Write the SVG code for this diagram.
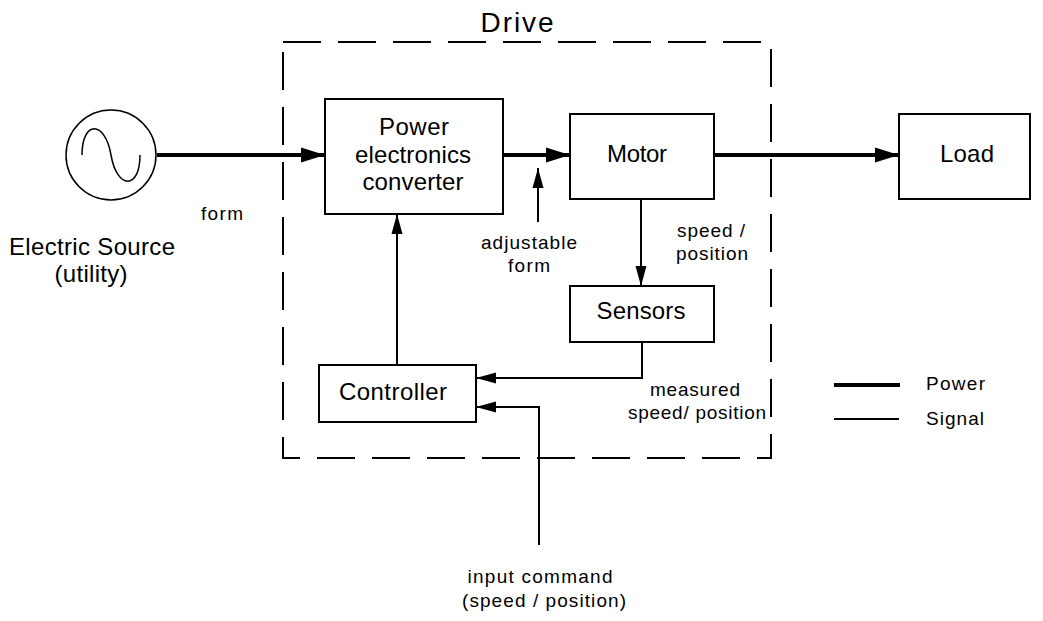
<svg xmlns="http://www.w3.org/2000/svg" width="1043" height="621" viewBox="0 0 1043 621">
<style>
text{font-family:"Liberation Sans",Arial,sans-serif;fill:#000;text-anchor:middle}
.box{fill:#fff;stroke:#000;stroke-width:2}
.pw{stroke:#000;stroke-width:4;fill:none}
.sg{stroke:#000;stroke-width:2;fill:none}
.big{font-size:24px}
.sm{font-size:19px}
</style>
<defs>
<marker id="ap" markerUnits="userSpaceOnUse" markerWidth="26" markerHeight="18" refX="24" refY="9" orient="auto"><path d="M0,1.5 L24,9 L0,16.5 Z" fill="#000"/></marker>
<marker id="as" markerUnits="userSpaceOnUse" markerWidth="22" markerHeight="14" refX="20" refY="7" orient="auto"><path d="M0,1.5 L20,7 L0,12.5 Z" fill="#000"/></marker>
</defs>
<g id="drive">
<path d="M283,42 H771 V458 H283 Z" fill="none" stroke="#000" stroke-width="2" stroke-dasharray="38 17"/>
<text x="517" y="32" style="font-size:28px" textLength="73">Drive</text>
</g>
<g id="source">
<circle cx="111" cy="155" r="45" fill="#fff" stroke="#000" stroke-width="1.5"/>
<path d="M82,155 C82,120 105,120 111,155 C117,190 140,190 140,155" fill="none" stroke="#000" stroke-width="1.5"/>
<text class="big" x="92" y="255" textLength="166">Electric Source</text>
<text class="big" x="91" y="282" textLength="73">(utility)</text>
</g>
<g id="converter">
<rect class="box" x="325" y="99" width="178" height="115"/>
<text class="big" x="414" y="135" textLength="70">Power</text>
<text class="big" x="413" y="163" textLength="116">electronics</text>
<text class="big" x="413" y="190" textLength="101">converter</text>
</g>
<g id="motor">
<rect class="box" x="570" y="114" width="144" height="85"/>
<text class="big" x="637" y="162" textLength="60">Motor</text>
</g>
<g id="load">
<rect class="box" x="899" y="114" width="131" height="85"/>
<text class="big" x="967" y="162" textLength="54">Load</text>
</g>
<g id="sensors">
<rect class="box" x="570" y="286" width="144" height="56"/>
<text class="big" x="641" y="319" textLength="89">Sensors</text>
</g>
<g id="controller">
<rect class="box" x="319" y="365" width="157" height="57"/>
<text class="big" x="393" y="400" textLength="108">Controller</text>
</g>
<g id="connectors">
<line class="pw" x1="157" y1="155" x2="325" y2="155" marker-end="url(#ap)"/>
<line class="pw" x1="503" y1="155" x2="570" y2="155" marker-end="url(#ap)"/>
<line class="pw" x1="714" y1="155" x2="899" y2="155" marker-end="url(#ap)"/>
<line class="sg" x1="538" y1="222" x2="538" y2="168" marker-end="url(#as)"/>
<line class="sg" x1="641" y1="199" x2="641" y2="286" marker-end="url(#as)"/>
<polyline class="sg" points="642,342 642,378 476,378" marker-end="url(#as)"/>
<polyline class="sg" points="539,545 539,407 476,407" marker-end="url(#as)"/>
<line class="sg" x1="397" y1="365" x2="397" y2="214" marker-end="url(#as)"/>
</g>
<g id="labels">
<text class="sm" x="222" y="220" textLength="42">form</text>
<text class="sm" x="529" y="249" textLength="96">adjustable</text>
<text class="sm" x="529" y="272" textLength="42">form</text>
<text class="sm" x="711" y="237" textLength="68">speed /</text>
<text class="sm" x="712" y="260" textLength="72">position</text>
<text class="sm" x="695" y="396" textLength="90">measured</text>
<text class="sm" x="697" y="419" textLength="138">speed/ position</text>
<text class="sm" x="540" y="583" textLength="145">input command</text>
<text class="sm" x="544" y="607" textLength="164">(speed / position)</text>
</g>
<g id="legend">
<line class="pw" x1="834" y1="385" x2="900" y2="385"/>
<line class="sg" x1="834" y1="419" x2="899" y2="419"/>
<text class="sm" x="926" y="390" style="text-anchor:start" textLength="59">Power</text>
<text class="sm" x="926" y="425" style="text-anchor:start" textLength="58">Signal</text>
</g>
</svg>
